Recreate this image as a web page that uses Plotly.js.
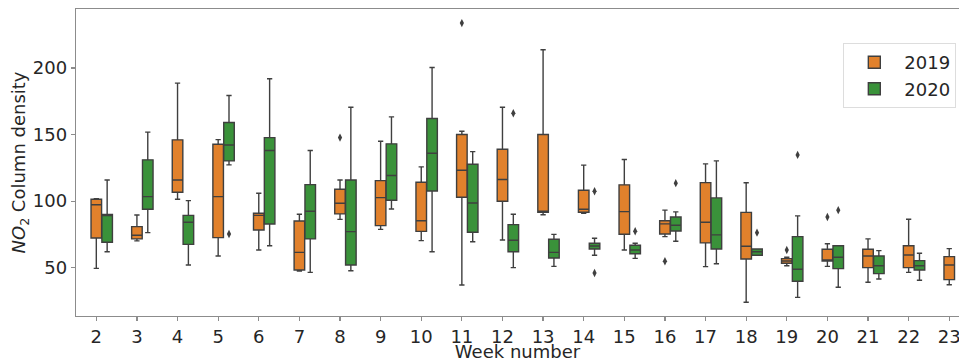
<!DOCTYPE html>
<html>
<head>
<meta charset="utf-8">
<script src="https://cdn.plot.ly/plotly-3.0.1.min.js"></script>
<style>html,body{margin:0;padding:0;background:#fff;}#chart{width:959px;height:362px;}</style>
</head>
<body>
<div id="chart"></div>
<script>
// Week numbers
const weeks2019 = [2,3,4,5,6,7,8,9,10,11,12,13,14,15,16,17,18,19,20,21,22,23];
const weeks2020 = [2,3,4,5,6,7,8,9,10,11,12,13,14,15,16,17,18,19,20,21,22];
const tickWeeks = [2,3,4,5,6,7,8,9,10,11,12,13,14,15,16,17,18,19,20,21,22,23];

// 2019 box statistics
const lf2019  = [49.5, 70.1, 101.4, 58.8, 63.3, 47.5, 86.3, 78.8, 70.3, 37.0, 70.8, 89.8, 90.9, 63.3, 73.3, 50.8, 24.0, 51.5, 51.0, 39.0, 46.5, 37.2];
const q1_2019 = [72.3, 71.6, 106.6, 72.6, 78.3, 48.2, 90.4, 81.6, 77.3, 102.9, 99.9, 91.6, 91.6, 75.1, 75.3, 68.6, 56.5, 53.3, 55.0, 50.0, 50.0, 41.0];
const med2019 = [97.3, 74.3, 115.9, 103.4, 89.3, 61.5, 98.4, 102.6, 85.3, 123.2, 116.2, 92.4, 93.9, 92.1, 82.9, 84.1, 66.1, 55.0, 55.8, 58.8, 59.5, 52.0];
const q3_2019 = [101.4, 80.8, 146.0, 142.7, 90.9, 85.1, 108.9, 115.4, 114.2, 150.0, 139.0, 150.0, 108.1, 112.2, 85.3, 113.9, 91.5, 56.8, 63.8, 63.8, 66.5, 58.3];
const uf2019  = [101.8, 89.6, 188.6, 146.2, 105.9, 90.1, 115.9, 145.0, 125.7, 152.5, 170.5, 213.7, 127.0, 131.2, 93.2, 128.0, 113.8, 57.8, 68.0, 71.6, 86.4, 64.3];
const outWeeks2019 = [8, 11, 16, 19, 20];
const outVals2019  = [147.7, 233.7, 54.8, 63.3, 88.1];

// 2020 box statistics
const lf2020  = [62.0, 76.3, 52.0, 127.2, 66.5, 46.5, 47.7, 94.1, 62.0, 69.5, 50.0, 51.0, 59.3, 57.0, 69.8, 53.0, 59.3, 27.7, 35.3, 41.5, 40.5];
const q1_2020 = [69.1, 93.9, 67.5, 130.2, 82.8, 71.6, 52.0, 100.6, 107.6, 76.6, 62.0, 57.3, 64.0, 60.5, 77.6, 64.0, 59.3, 39.8, 49.3, 45.5, 48.3];
const med2020 = [89.6, 103.4, 84.1, 142.2, 138.0, 92.4, 77.1, 119.2, 136.0, 98.6, 70.6, 61.5, 66.3, 63.3, 81.9, 74.6, 62.0, 48.8, 57.8, 51.5, 51.5];
const q3_2020 = [89.9, 131.0, 89.3, 159.0, 147.7, 112.4, 115.9, 143.0, 162.0, 127.7, 82.3, 71.3, 68.3, 66.8, 88.1, 102.4, 64.0, 73.3, 66.5, 58.8, 55.3];
const uf2020  = [115.9, 151.8, 100.4, 179.3, 191.9, 138.0, 170.5, 163.3, 200.4, 137.2, 90.1, 75.0, 72.1, 68.3, 91.9, 130.2, 64.0, 88.9, 66.5, 62.8, 60.8];
const outWeeks2020 = [5, 12, 14, 14, 15, 16, 18, 19, 20];
const outVals2020  = [75.3, 166.0, 107.4, 46.0, 77.4, 113.5, 76.3, 134.7, 93.2];

// styling
const col2019 = '#e1812c';
const col2020 = '#3a923a';
const edge = '#3f3f3f';
const off2019 = 0;
const off2020 = 0.267;
const boxW = 0.26;
const FONT = 'DejaVu Sans, sans-serif';

function boxTrace(name, weeks, off, lf, q1, med, q3, uf, color) {
  return {
    type: 'box', name: name,
    x: weeks.map(w => w + off),
    lowerfence: lf, q1: q1, median: med, q3: q3, upperfence: uf,
    width: boxW, whiskerwidth: 0.5,
    boxpoints: false,
    fillcolor: color,
    line: {color: edge, width: 1.4},
    marker: {color: color},
    hoverinfo: 'skip'
  };
}
function outTrace(weeks, off, vals) {
  return {
    type: 'scatter', mode: 'markers', showlegend: false,
    x: weeks.map(w => w + off), y: vals,
    marker: {symbol: 'diamond-tall', size: 6, color: edge},
    hoverinfo: 'skip'
  };
}

const data = [
  boxTrace('2019', weeks2019, off2019, lf2019, q1_2019, med2019, q3_2019, uf2019, col2019),
  boxTrace('2020', weeks2020, off2020, lf2020, q1_2020, med2020, q3_2020, uf2020, col2020),
  outTrace(outWeeks2019, off2019, outVals2019),
  outTrace(outWeeks2020, off2020, outVals2020)
];

const layout = {
  width: 959, height: 362,
  margin: {l: 76, r: 0, t: 9, b: 46},
  paper_bgcolor: '#ffffff', plot_bgcolor: '#ffffff',
  font: {family: FONT, size: 18, color: '#262626'},
  boxmode: 'overlay',
  showlegend: true,
  legend: {
    x: 0.869, y: 0.889, xanchor: 'left', yanchor: 'top',
    bgcolor: '#ffffff', bordercolor: '#dddddd', borderwidth: 1,
    font: {family: FONT, size: 18, color: '#262626'},
    itemwidth: 50,
    traceorder: 'normal'
  },
  xaxis: {
    range: [1.5, 23.24],
    tickmode: 'array', tickvals: tickWeeks, ticktext: tickWeeks.map(String),
    showgrid: false, zeroline: false,
    showline: true, mirror: true, linecolor: '#8c8c8c', linewidth: 1.3,
    ticks: 'outside', ticklen: 4, tickcolor: '#8c8c8c', tickwidth: 1.2,
    ticklabeloverflow: 'allow',
    tickfont: {family: FONT, size: 18, color: '#262626'},
    title: {text: 'Week number', font: {family: FONT, size: 18, color: '#262626'}, standoff: 1}
  },
  yaxis: {
    range: [13.7, 244.3],
    tickmode: 'array', tickvals: [50, 100, 150, 200],
    showgrid: false, zeroline: false,
    showline: true, mirror: false, linecolor: '#8c8c8c', linewidth: 1.3,
    ticks: 'outside', ticklen: 4, tickcolor: '#8c8c8c', tickwidth: 1.2,
    tickfont: {family: FONT, size: 18, color: '#262626'},
    title: {text: '<i>NO</i><sub>2</sub> Column density', font: {family: FONT, size: 18, color: '#262626'}, standoff: 2}
  }
};

Plotly.newPlot('chart', data, layout, {staticPlot: true, displayModeBar: false});
</script>
</body>
</html>
